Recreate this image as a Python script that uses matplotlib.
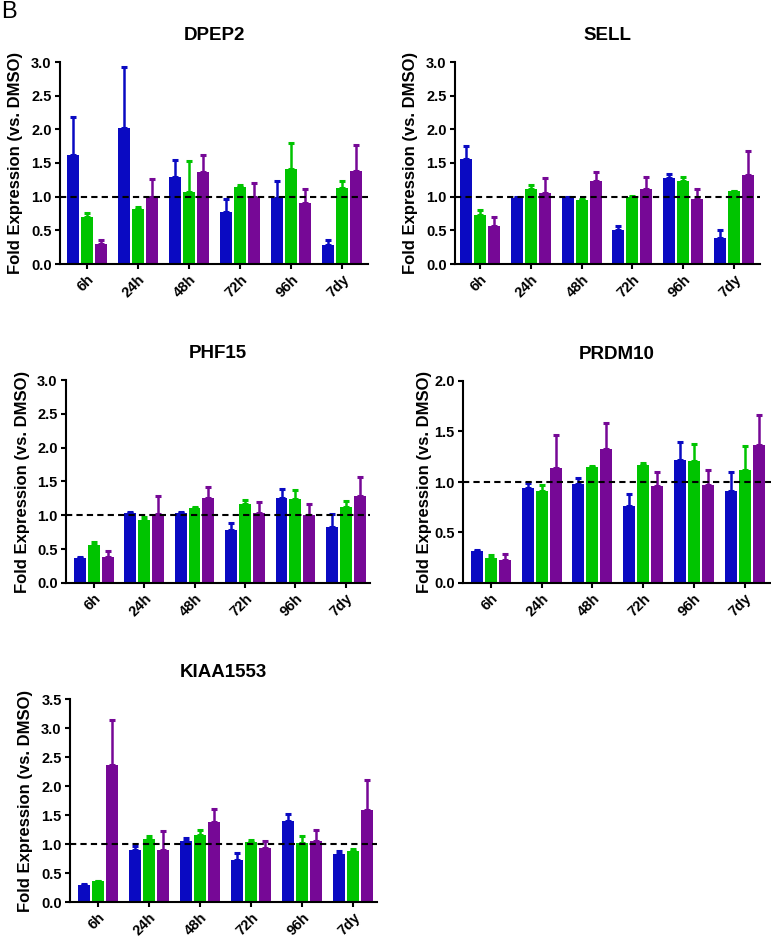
import matplotlib
matplotlib.use("Agg")
import matplotlib.pyplot as plt
import numpy as np

plt.rcParams['font.family'] = ['Liberation Sans', 'DejaVu Sans']

timepoints = ["6h", "24h", "48h", "72h", "96h", "7dy"]

# DPEP2
dpep2_blue = [1.62, 2.02, 1.29, 0.77, 0.98, 0.28]
dpep2_blue_err = [0.56, 0.90, 0.26, 0.19, 0.26, 0.07]
dpep2_green = [0.70, 0.82, 1.07, 1.15, 1.41, 1.13]
dpep2_green_err = [0.06, 0.03, 0.46, 0.02, 0.39, 0.11]
dpep2_purple = [0.29, 1.00, 1.36, 1.00, 0.91, 1.38]
dpep2_purple_err = [0.07, 0.26, 0.26, 0.20, 0.21, 0.39]

# SELL
sell_blue = [1.56, 0.98, 0.99, 0.50, 1.27, 0.39]
sell_blue_err = [0.19, 0.01, 0.01, 0.07, 0.07, 0.11]
sell_green = [0.73, 1.12, 0.95, 1.00, 1.24, 1.08]
sell_green_err = [0.07, 0.05, 0.02, 0.01, 0.05, 0.01]
sell_purple = [0.57, 1.05, 1.24, 1.11, 0.96, 1.32]
sell_purple_err = [0.13, 0.23, 0.12, 0.18, 0.16, 0.36]

# PHF15
phf15_blue = [0.37, 1.04, 1.04, 0.78, 1.26, 0.83]
phf15_blue_err = [0.02, 0.01, 0.01, 0.10, 0.13, 0.19]
phf15_green = [0.56, 0.93, 1.11, 1.17, 1.24, 1.12]
phf15_green_err = [0.04, 0.05, 0.01, 0.05, 0.13, 0.09]
phf15_purple = [0.38, 1.02, 1.26, 1.04, 1.00, 1.29]
phf15_purple_err = [0.10, 0.27, 0.16, 0.15, 0.17, 0.27]

# PRDM10
prdm10_blue = [0.32, 0.94, 0.98, 0.76, 1.22, 0.91]
prdm10_blue_err = [0.01, 0.05, 0.06, 0.12, 0.18, 0.19]
prdm10_green = [0.25, 0.91, 1.15, 1.17, 1.21, 1.12]
prdm10_green_err = [0.03, 0.06, 0.01, 0.02, 0.17, 0.24]
prdm10_purple = [0.23, 1.14, 1.33, 0.96, 0.97, 1.37]
prdm10_purple_err = [0.06, 0.33, 0.25, 0.14, 0.15, 0.29]

# KIAA1553
kiaa_blue = [0.30, 0.90, 1.06, 0.73, 1.39, 0.83]
kiaa_blue_err = [0.01, 0.06, 0.04, 0.12, 0.12, 0.05]
kiaa_green = [0.36, 1.09, 1.16, 1.04, 1.02, 0.88]
kiaa_green_err = [0.01, 0.04, 0.09, 0.03, 0.11, 0.03]
kiaa_purple = [2.36, 0.89, 1.38, 0.93, 1.05, 1.58]
kiaa_purple_err = [0.77, 0.33, 0.23, 0.13, 0.20, 0.53]

colors = ['#0a0ac2', '#00c400', '#760896']

W, H = 771, 938
fig = plt.figure(figsize=(W / 100, H / 100), dpi=100)


def rect(l, r, t, b):
    return [l / W, 1 - b / H, (r - l) / W, (b - t) / H]


# (title, (left, right, top, bottom) px, xlim, ymax, ylabel offset px, series)
panels = [
    ("DPEP2", (60, 368, 62, 264), (-0.53, 5.51), 3.0, 44,
     [(dpep2_blue, dpep2_blue_err), (dpep2_green, dpep2_green_err), (dpep2_purple, dpep2_purple_err)]),
    ("SELL", (455, 760, 62, 264), (-0.49, 5.51), 3.0, 44,
     [(sell_blue, sell_blue_err), (sell_green, sell_green_err), (sell_purple, sell_purple_err)]),
    ("PHF15", (66, 370, 380, 583), (-0.55, 5.48), 3.0, 44,
     [(phf15_blue, phf15_blue_err), (phf15_green, phf15_green_err), (phf15_purple, phf15_purple_err)]),
    ("PRDM10", (463, 771, 381, 583), (-0.55, 5.52), 2.0, 38,
     [(prdm10_blue, prdm10_blue_err), (prdm10_green, prdm10_green_err), (prdm10_purple, prdm10_purple_err)]),
    ("KIAA1553", (70, 377, 699, 902), (-0.55, 5.47), 3.5, 44,
     [(kiaa_blue, kiaa_blue_err), (kiaa_green, kiaa_green_err), (kiaa_purple, kiaa_purple_err)]),
]

x = np.arange(len(timepoints))
offset = 0.275
width = 0.235

for title, (l, r, t, b), xlim, ymax, yloff, series in panels:
    ax = fig.add_axes(rect(l, r, t, b))
    for i, (vals, errs) in enumerate(series):
        xpos = x + (i - 1) * offset
        ax.bar(xpos, vals, width=width, color=colors[i], edgecolor='none', zorder=2)
        ax.errorbar(xpos, vals, yerr=[np.zeros(len(errs)), errs], fmt='none',
                    ecolor=colors[i], elinewidth=1.8, capsize=2.2, capthick=2.2, zorder=2)
    ax.axhline(1.0, color='black', linestyle=(0, (3, 2)), linewidth=1.5, zorder=3)
    ax.set_xlim(*xlim)
    ax.set_ylim(0, ymax)
    yt = np.arange(0, ymax + 0.01, 0.5)
    ax.set_yticks(yt)
    ax.set_yticklabels([f"{v:.1f}" for v in yt])
    ax.set_xticks(x)
    ax.set_xticklabels(timepoints, rotation=45, ha='right', rotation_mode='anchor')
    for s in ['top', 'right']:
        ax.spines[s].set_visible(False)
    for s in ['left', 'bottom']:
        ax.spines[s].set_linewidth(1.5)
    ax.tick_params(width=1.5, length=3.5, labelsize=10.5, pad=2.5)
    for lab in ax.get_xticklabels() + ax.get_yticklabels():
        lab.set_fontweight('bold')
    ax.set_ylabel("Fold Expression (vs. DMSO)", fontsize=12, fontweight='bold',
                  va='center')
    ax.yaxis.set_label_coords(-yloff / (r - l), 0.5)
    ax.set_title(title, fontsize=13.5, fontweight='bold', pad=16)

fig.text(1 / W, 1 - 1 / H, "B", fontsize=17, ha='left', va='top')

fig.savefig("out.png", dpi=100)
